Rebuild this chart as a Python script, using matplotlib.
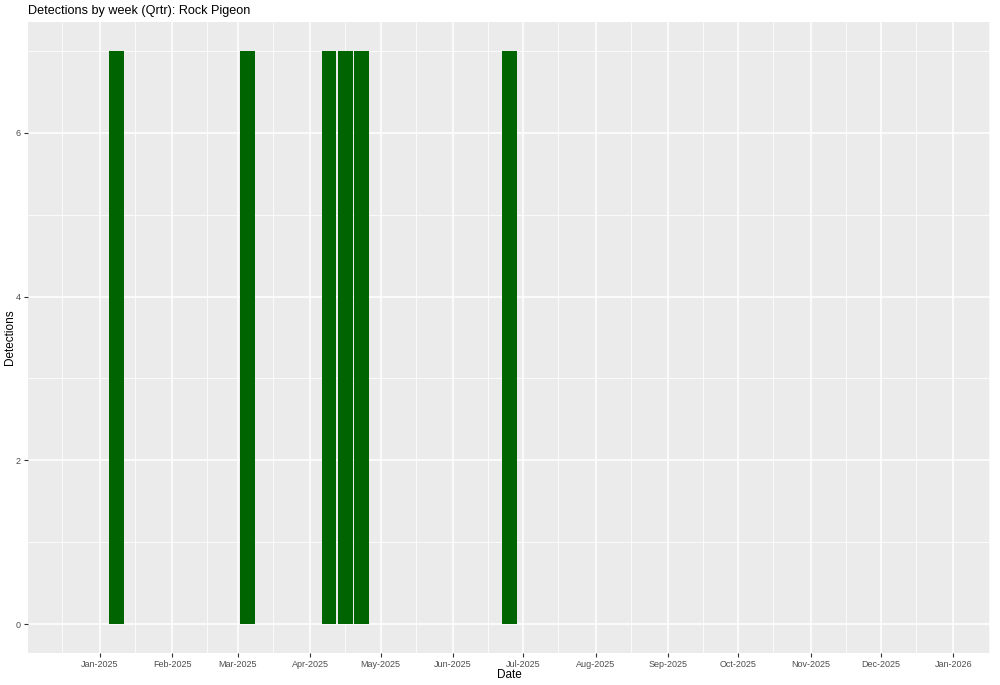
import datetime as dt
import matplotlib
matplotlib.use("Agg")
import matplotlib.pyplot as plt
import matplotlib.dates as mdates

# === Données ===
WEEKS = ["2025-01-08", "2025-03-05", "2025-04-09", "2025-04-16", "2025-04-23", "2025-06-25"]
DETECTIONS = [7, 7, 7, 7, 7, 7]
TITLE = "Detections by week (Qrtr): Rock Pigeon"

plt.rcParams["font.family"] = ["Liberation Sans", "DejaVu Sans"]

dates = [dt.datetime.strptime(d, "%Y-%m-%d") for d in WEEKS]

fig = plt.figure(figsize=(10, 6.85), dpi=100)
ax = fig.add_axes([0.028, 1 - 653 / 685, 0.962, (653 - 22) / 685])
ax.set_facecolor("#EBEBEB")

# --- Barres ---
ax.bar(dates, DETECTIONS, width=6.3, color="#006400", zorder=3)

# --- Axes ---
ax.set_xlim(dt.datetime(2024, 12, 1, 6), dt.datetime(2026, 1, 16, 15))
ax.set_ylim(-0.35, 7.35)
ax.xaxis.set_major_locator(mdates.MonthLocator())
ax.xaxis.set_major_formatter(mdates.DateFormatter("%b-%Y"))
ax.xaxis.set_minor_locator(mdates.MonthLocator(bymonthday=16))
ax.set_yticks([0, 2, 4, 6])
ax.set_yticks([1, 3, 5, 7], minor=True)

ax.grid(which="major", color="white", linewidth=1.1, zorder=0)
ax.grid(which="minor", color="white", linewidth=0.55, zorder=0)
ax.set_axisbelow(True)
for s in ax.spines.values():
    s.set_visible(False)

ax.tick_params(which="major", length=3, width=0.8, color="#333333",
               labelsize=6.5, labelcolor="#4D4D4D", pad=2)
ax.tick_params(which="minor", length=0)

ax.set_xlabel("Date", fontsize=8.5, labelpad=0)
ax.set_ylabel("Detections", fontsize=8.5, labelpad=0)
fig.text(0.028, 1 - 11 / 685, TITLE, fontsize=9.1, ha="left", va="center")

fig.savefig("out.png", dpi=100)
